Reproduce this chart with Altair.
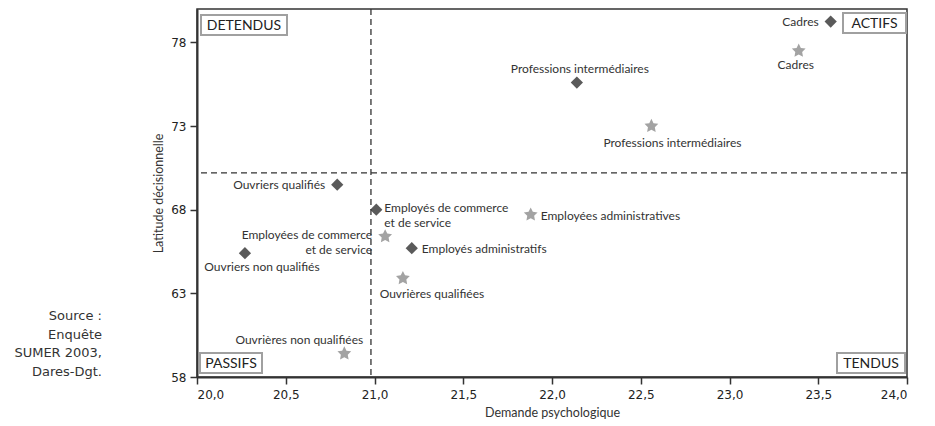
import altair as alt
import pandas as pd

# ---- data ----
men_labels = ["Cadres", "Professions intermédiaires", "Employés de commerce\net de service",
              "Employés administratifs", "Ouvriers qualifiés", "Ouvriers non qualifiés"]
men_x = [23.57, 22.14, 21.01, 21.21, 20.79, 20.27]
men_y = [79.25, 75.6, 68.0, 65.7, 69.5, 65.4]

women_labels = ["Cadres", "Professions intermédiaires", "Employées de commerce\net de service",
                "Employées administratives", "Ouvrières qualifiées", "Ouvrières non qualifiées"]
women_x = [23.39, 22.56, 21.06, 21.88, 21.16, 20.83]
women_y = [77.5, 73.0, 66.4, 67.7, 63.9, 59.4]

x_ticks = [20.0, 20.5, 21.0, 21.5, 22.0, 22.5, 23.0, 23.5, 24.0]
y_ticks = [58, 63, 68, 73, 78]
x_threshold = [20.98]
y_threshold = [70.2]

quadrants = ["DETENDUS", "ACTIFS", "PASSIFS", "TENDUS"]
source_text = "Source :\nEnquête\nSUMER 2003,\nDares-Dgt."

# ---- styling / layout (not data) ----
W, H = 710, 368
DARK = "#5a5a5a"
LIGHT = "#a3a3a3"
TXT = "#333333"
LABEL_FONT = "Lato"
STAR = ("M0,-1L0.294,-0.405L0.951,-0.309L0.4755,0.1545L0.588,0.809L0,0.5"
        "L-0.588,0.809L-0.4755,0.1545L-0.951,-0.309L-0.294,-0.405Z")

# label placement: (align, dx, dy)
men_place = [("right", -12, 0), ("center", 3, -14), ("left", 8, -2),
             ("left", 10, 1), ("right", -12, 0), ("center", 17, 14)]
women_place = [("center", -3, 14), ("center", 21, 17), ("right", -13, -1),
               ("left", 10, 1), ("center", 29, 16), ("center", -45, -14)]

# quadrant boxes in pixels relative to plot origin: x0, x1, y0, y1
quad_boxes = [(4, 90, 6, 26), (646, 709, 4, 24), (3, 65, 344, 364), (640, 708, 344, 364)]

men = pd.DataFrame({"x": men_x, "y": men_y, "label": men_labels})
women = pd.DataFrame({"x": women_x, "y": women_y, "label": women_labels})

xscale = alt.Scale(domain=[20, 24], nice=False, zero=False)
yscale = alt.Scale(domain=[58, 80], nice=False, zero=False)

X = alt.X("x:Q", scale=xscale, title="Demande psychologique",
          axis=alt.Axis(values=x_ticks,
                        labelExpr="replace(format(datum.value, '.1f'), '.', ',')"))
Y = alt.Y("y:Q", scale=yscale, title="Latitude décisionnelle",
          axis=alt.Axis(values=y_ticks, format="d"))

diamonds = alt.Chart(men).mark_point(shape="diamond", filled=True, size=150,
                                     color=DARK, opacity=1).encode(x=X, y=Y)
stars = alt.Chart(women).mark_point(shape=STAR, filled=True, size=210,
                                    color=LIGHT, opacity=1).encode(x=X, y=Y)

vline = alt.Chart(pd.DataFrame({"x": x_threshold})).mark_rule(
    color=TXT, strokeDash=[6, 4], strokeWidth=1.3).encode(x=X)
hline = alt.Chart(pd.DataFrame({"y": y_threshold})).mark_rule(
    color=TXT, strokeDash=[6, 4], strokeWidth=1.3).encode(y=Y)

label_layers = []
for df, places in ((men, men_place), (women, women_place)):
    for i, (al, dx, dy) in enumerate(places):
        label_layers.append(
            alt.Chart(df.iloc[[i]]).mark_text(
                align=al, baseline="middle", dx=dx, dy=dy, font=LABEL_FONT,
                fontSize=12, color=TXT, lineBreak="\n", lineHeight=15
            ).encode(x=X, y=Y, text="label:N")
        )

quad_layers = []
for name, (x0, x1, y0, y1) in zip(quadrants, quad_boxes):
    d = pd.DataFrame({"t": [name]})
    quad_layers.append(
        alt.Chart(d).mark_rect(fill="white", stroke="#a0a0a0", strokeWidth=2).encode(
            x=alt.value(x0), x2=alt.value(x1), y=alt.value(y0), y2=alt.value(y1)))
    quad_layers.append(
        alt.Chart(d).mark_text(font=LABEL_FONT, fontSize=14, color="#222222",
                               align="center", baseline="middle").encode(
            x=alt.value((x0 + x1) / 2), y=alt.value((y0 + y1) / 2 + 1), text="t:N"))

source = alt.Chart(pd.DataFrame({"t": [source_text]})).mark_text(
    font="DejaVu Sans", fontSize=13, color="#333333", align="right", baseline="middle",
    lineBreak="\n", lineHeight=18.7).encode(
    x=alt.value(-95), y=alt.value(307), text="t:N")

chart = alt.layer(
    diamonds, vline, hline, *quad_layers, stars, *label_layers, source
).properties(
    width=W, height=H,
    autosize=alt.AutoSizeParams(type="none"),
    padding={"left": 189, "top": 1, "right": 20, "bottom": 46},
).configure_view(
    stroke=TXT, strokeWidth=1.5
).configure_axis(
    grid=False, domainColor=TXT, domainWidth=2, tickColor=TXT, tickWidth=1.5,
    tickSize=7, labelFont="DejaVu Sans", labelFontSize=12, labelColor="#222222",
    titleFont=LABEL_FONT, titleFontSize=12.5, titleColor=TXT, titleFontWeight="normal"
).configure_axisX(
    labelPadding=5, titlePadding=6
).configure_axisY(
    labelPadding=4, titlePadding=5
)

chart.save("out.html", embed_options={"renderer": "svg", "actions": False})
